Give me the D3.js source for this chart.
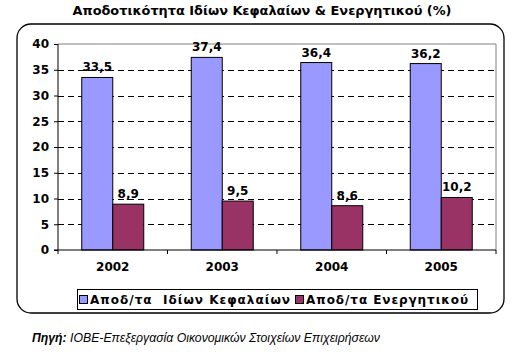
<!DOCTYPE html>
<html><head><meta charset="utf-8">
<script src="https://cdn.jsdelivr.net/npm/d3@7"></script>
<style>body{margin:0;background:#fff}svg{display:block}</style>
</head><body>
<script>
const categories = ["2002","2003","2004","2005"];
const seriesNames = ["Αποδ/τα  Ιδίων Κεφαλαίων","Αποδ/τα Ενεργητικού"];
const equity = [33.5, 37.4, 36.4, 36.2];
const assets = [8.9, 9.5, 8.6, 10.2];
const yTicks = [0,5,10,15,20,25,30,35,40];
const colors = ["#9999ff","#993366"];
const title = "Αποδοτικότητα Ιδίων Κεφαλαίων & Ενεργητικού (%)";

const W=512,H=358;
const svg=d3.select("body").append("svg").attr("width",W).attr("height",H);
const font="'DejaVu Sans', Verdana, sans-serif";

svg.append("text").attr("x",262).attr("y",15).attr("text-anchor","middle")
  .attr("font-family",font).attr("font-weight","bold").attr("font-size",13)
  .attr("textLength",379).attr("lengthAdjust","spacingAndGlyphs").text(title);

svg.append("rect").attr("x",17).attr("y",24).attr("width",487).attr("height",289)
  .attr("rx",14).attr("fill","#fff").attr("stroke","#000").attr("stroke-width",1.3);

const L=58,R=496,T=44,B=250;
const x0=d3.scaleBand().domain(categories).range([L,R]);
const x1=d3.scaleBand().domain([0,1]).range([0,62]);
const y=d3.scaleLinear().domain([0,40]).range([B,T]);

svg.append("line").attr("x1",L).attr("x2",R).attr("y1",T).attr("y2",T).attr("stroke","#808080");
svg.append("line").attr("x1",R).attr("x2",R).attr("y1",T).attr("y2",B).attr("stroke","#808080");

svg.append("g").selectAll("line").data(yTicks.filter(d=>d>0&&d<40)).join("line")
  .attr("x1",L).attr("x2",R).attr("y1",d=>Math.round(y(d))+0.5).attr("y2",d=>Math.round(y(d))+0.5)
  .attr("stroke","#000").attr("stroke-dasharray","6,4");

const data=categories.map((c,i)=>({c,v:[equity[i],assets[i]]}));
const g=svg.append("g");
data.forEach(d=>{
  const cx=x0(d.c)+x0.bandwidth()/2-31;
  d.v.forEach((v,j)=>{
    g.append("rect").attr("x",cx+x1(j)).attr("y",y(v)).attr("width",x1.bandwidth()).attr("height",B-y(v))
      .attr("fill",colors[j]).attr("stroke","#000").attr("stroke-width",1);
    g.append("text").attr("x",cx+x1(j)+x1.bandwidth()/2).attr("y",y(v)-6).attr("text-anchor","middle")
      .attr("font-family",font).attr("font-weight","bold").attr("font-size",12)
      .text(d3.format(".1f")(v).replace(".",","));
  });
});

const ya=svg.append("g").attr("transform",`translate(${L},0)`)
  .call(d3.axisLeft(y).tickValues(yTicks).tickSize(4).tickPadding(5));
ya.select(".domain").attr("d",`M0,${T}V${B}`).attr("stroke","#000");
ya.selectAll("text").attr("font-family",font).attr("font-weight","bold").attr("font-size",12).attr("fill","#000");

const xa=svg.append("g").attr("transform",`translate(0,${B})`);
xa.append("line").attr("x1",L-4).attr("x2",R).attr("stroke","#000");
xa.selectAll("line.t").data(categories.map(c=>x0(c)).concat([R])).join("line").attr("class","t")
  .attr("x1",d=>d).attr("x2",d=>d).attr("y1",0).attr("y2",4).attr("stroke","#000");
xa.selectAll("text").data(categories).join("text").attr("x",d=>x0(d)+x0.bandwidth()/2).attr("y",21)
  .attr("text-anchor","middle").attr("font-family",font).attr("font-weight","bold").attr("font-size",12).text(d=>d);

svg.append("rect").attr("x",77.5).attr("y",289.5).attr("width",400).attr("height",20).attr("fill","#fff").attr("stroke","#000");
const legX=[79,295], legT=[[90,200],[306,162]];
seriesNames.forEach((n,i)=>{
  svg.append("rect").attr("x",legX[i]+0.5).attr("y",295.5).attr("width",8).attr("height",8).attr("fill",colors[i]).attr("stroke","#000");
  svg.append("text").attr("x",legT[i][0]).attr("y",304).attr("font-family",font).attr("font-weight","bold").attr("font-size",12)
    .attr("textLength",legT[i][1]).attr("lengthAdjust","spacing").attr("xml:space","preserve").text(n);
});

const ft=svg.append("text").attr("x",32).attr("y",342).attr("font-family","'Liberation Sans', Arial, sans-serif")
  .attr("font-style","italic").attr("font-size",12).attr("textLength",348).attr("lengthAdjust","spacingAndGlyphs");
ft.append("tspan").attr("font-weight","bold").text("Πηγή:");
ft.append("tspan").text(" ΙΟΒΕ-Επεξεργασία Οικονομικών Στοιχείων Επιχειρήσεων");
</script>
</body></html>
